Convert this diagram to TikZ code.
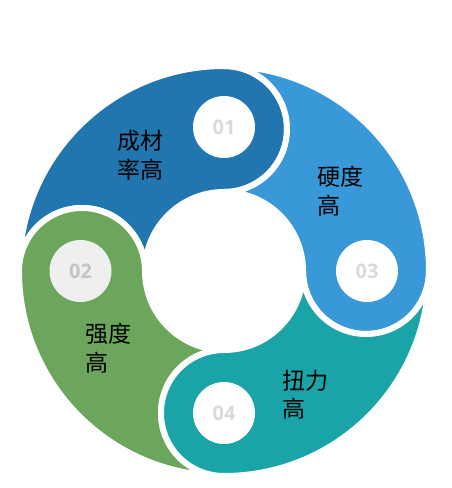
\documentclass[tikz,border=0pt]{standalone}
\usepackage{fontspec}
\newfontfamily\cjkfont{Noto Sans CJK SC}
\newfontfamily\numfont{Open Sans}[BoldFont={Open Sans Bold}]
\definecolor{segA}{HTML}{2276AF}
\definecolor{segB}{HTML}{6CA65C}
\definecolor{segC}{HTML}{3898D8}
\definecolor{segD}{HTML}{1BA4A8}
\definecolor{numgray}{HTML}{DADADA}
\definecolor{numdark}{HTML}{C4C4C4}
\definecolor{circgray}{HTML}{EFEFEF}
\newcommand\Ro{205pt}
\newcommand\Ri{79pt}
\newcommand\Wb{63pt}
\newcommand\ringseg[2]{%
  \path[segstyle, fill=#2] (#1:\Ro)
    arc[start angle=#1, end angle=#1-90, radius=\Ro]
    arc[start angle=#1-90, end angle=#1-270, radius=\Wb]
    arc[start angle=#1-90, end angle=#1, radius=\Ri]
    arc[start angle=#1+180, end angle=#1+360, radius=\Wb] -- cycle;}
\tikzset{
  segstyle/.style={draw=white, line width=6pt, line join=round},
  numcirc/.style={circle, fill=white, minimum size=62pt, inner sep=0pt,
    text=numgray, font=\numfont\bfseries\fontsize{20pt}{24pt}\selectfont},
  lbl/.style={anchor=north west, inner sep=0pt, align=left,
    font=\cjkfont\fontsize{23pt}{28.5pt}\selectfont, text=black}
}
\begin{document}
\begin{tikzpicture}[x=1pt,y=1pt]
\useasboundingbox (0,0) rectangle (452,488);
\begin{scope}[shift={(224,217)}]
  \ringseg{180}{segA}
  \ringseg{270}{segB}
  \ringseg{90}{segC}
  \ringseg{360}{segD}
  \node[numcirc] (n1) at (90:144pt) {01};
  \node[numcirc, fill=circgray, text=numdark] (n2) at (180:143.5pt) {02};
  \node[numcirc] (n3) at (0:143pt) {03};
  \node[numcirc] (n4) at (270:142pt) {04};
\end{scope}
\node[lbl] (l1) at (117,358) {成材\\率高};
\node[lbl] (l3) at (317,322) {硬度\\高};
\node[lbl] (l2) at (85,165) {强度\\高};
\node[lbl] (l4) at (282,118) {扭力\\高};
\end{tikzpicture}
\end{document}
